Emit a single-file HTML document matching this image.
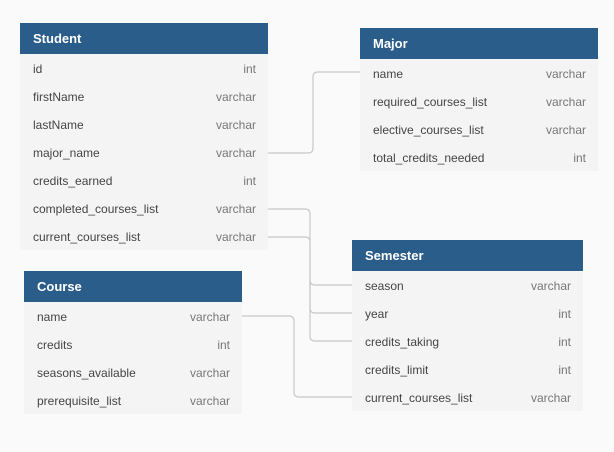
<!DOCTYPE html>
<html><head><style>
body{margin:0;width:614px;height:452px;background:#fafafa;font-family:"Liberation Sans",sans-serif;position:relative;overflow:hidden}
.t{position:absolute;background:#f4f4f4}
.h{background:#2a5d8a;color:#fff;font-weight:bold;font-size:13px;height:31px;line-height:31px;padding-left:13px}
.r{height:28px;line-height:30px;font-size:12px;color:#444;padding:0 12px 0 13px;display:flex;justify-content:space-between}
.r span:last-child{color:#777}
svg{position:absolute;left:0;top:0}
</style></head><body>
<svg width="614" height="452" fill="none" stroke="#c8c8c8" stroke-width="1.2">
<path d="M268 153H308Q313 153 313 148V77Q313 72 318 72H360"/>
<path d="M268 209H305Q310 209 310 214V280Q310 285 315 285H352"/>
<path d="M310 280V308Q310 313 315 313H352"/>
<path d="M268 237H305Q310 237 310 242V336Q310 341 315 341H352"/>
<path d="M242 316H289Q294 316 294 321V392Q294 397 299 397H352"/>
</svg>
<div class="t" style="left:20px;top:23px;width:248px;height:227px">
<div class="h">Student</div>
<div class="r"><span>id</span><span>int</span></div>
<div class="r"><span>firstName</span><span>varchar</span></div>
<div class="r"><span>lastName</span><span>varchar</span></div>
<div class="r"><span>major_name</span><span>varchar</span></div>
<div class="r"><span>credits_earned</span><span>int</span></div>
<div class="r"><span>completed_courses_list</span><span>varchar</span></div>
<div class="r"><span>current_courses_list</span><span>varchar</span></div>
</div>
<div class="t" style="left:360px;top:28px;width:238px;height:143px">
<div class="h">Major</div>
<div class="r"><span>name</span><span>varchar</span></div>
<div class="r"><span>required_courses_list</span><span>varchar</span></div>
<div class="r"><span>elective_courses_list</span><span>varchar</span></div>
<div class="r"><span>total_credits_needed</span><span>int</span></div>
</div>
<div class="t" style="left:24px;top:271px;width:218px;height:143px">
<div class="h">Course</div>
<div class="r"><span>name</span><span>varchar</span></div>
<div class="r"><span>credits</span><span>int</span></div>
<div class="r"><span>seasons_available</span><span>varchar</span></div>
<div class="r"><span>prerequisite_list</span><span>varchar</span></div>
</div>
<div class="t" style="left:352px;top:240px;width:231px;height:171px">
<div class="h">Semester</div>
<div class="r"><span>season</span><span>varchar</span></div>
<div class="r"><span>year</span><span>int</span></div>
<div class="r"><span>credits_taking</span><span>int</span></div>
<div class="r"><span>credits_limit</span><span>int</span></div>
<div class="r"><span>current_courses_list</span><span>varchar</span></div>
</div>
</body></html>
